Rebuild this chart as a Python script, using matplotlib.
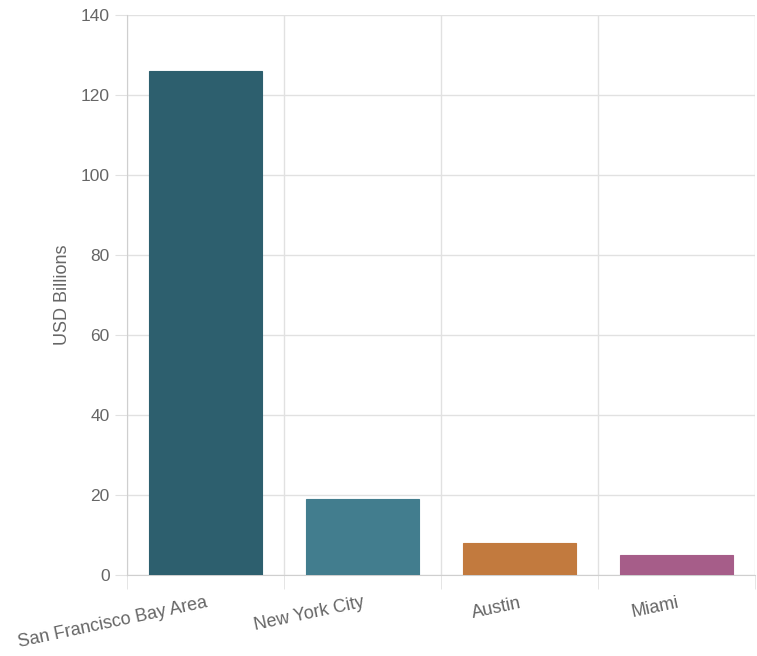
import matplotlib
matplotlib.use("Agg")
import matplotlib.pyplot as plt
import numpy as np

## Data ##
cities = ["San Francisco Bay Area", "New York City", "Austin", "Miami"]
usd_billions = [126, 19, 8, 5]
colors = ["#2d5f6e", "#427d8e", "#c27a3e", "#a65d89"]
y_ticks = [0, 20, 40, 60, 80, 100, 120, 140]

plt.rcParams['font.family'] = ['Liberation Sans', 'DejaVu Sans']
text_color = "#666666"
grid_color = "#e1e1e1"

## Figure ##
fig = plt.figure(figsize=(7.57, 6.56), dpi=100)
ax = fig.add_axes([127/757, 1 - 575/656, (755 - 127)/757, (575 - 15)/656])

x = np.arange(len(cities))
ax.bar(x, usd_billions, width=0.72, color=colors, edgecolor=colors, linewidth=0.8, zorder=3)

# axes limits and ticks
ax.set_xlim(-0.5, len(cities) - 0.5)
ax.set_ylim(0, 140)
ax.set_yticks(y_ticks)
ax.set_xticks(x)
ax.set_xticklabels(cities, rotation=12, ha='right', rotation_mode='anchor')
ax.set_xticks(np.arange(-0.5, len(cities)), minor=True)

ax.tick_params(axis='y', length=8.5, color=grid_color, labelsize=12.5, labelcolor=text_color, pad=4)
ax.tick_params(axis='x', which='major', length=0, labelsize=13, labelcolor=text_color, pad=14)
ax.tick_params(axis='x', which='minor', length=10, color=grid_color)

# grid
ax.grid(True, axis='y', color=grid_color, linewidth=1, zorder=0)
ax.grid(True, axis='x', which='minor', color=grid_color, linewidth=1, zorder=0)
ax.grid(False, axis='x', which='major')

for side in ['top', 'right']:
    ax.spines[side].set_visible(False)
for side in ['left', 'bottom']:
    ax.spines[side].set_color("#cfcfcf")

ax.set_ylabel("USD Billions", color=text_color, fontsize=13, labelpad=7)

fig.savefig("out.png", dpi=100)
